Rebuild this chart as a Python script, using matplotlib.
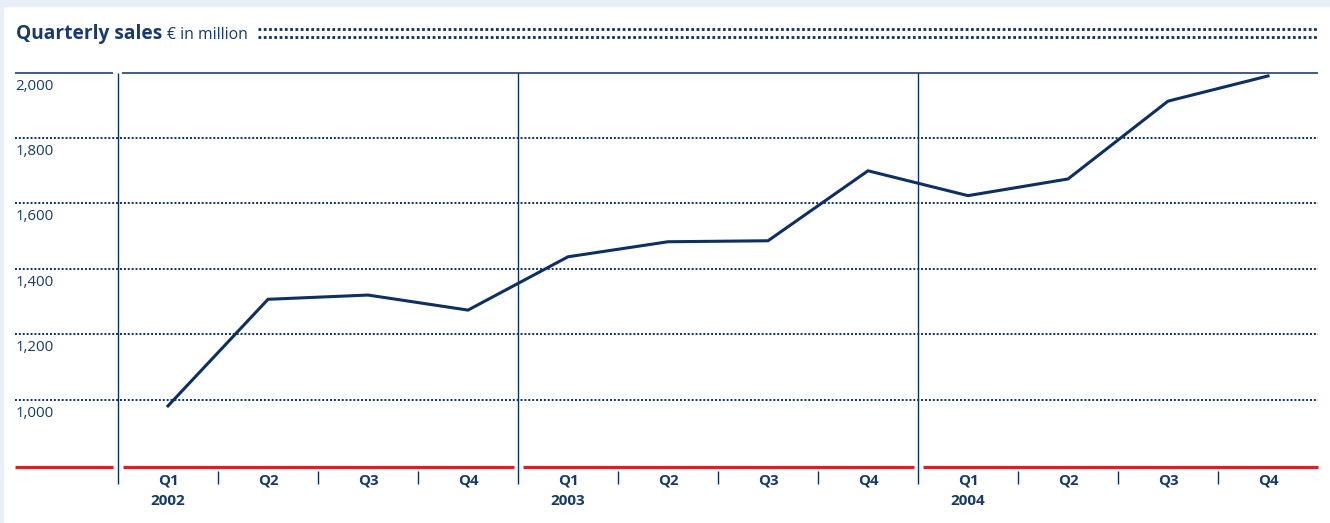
import matplotlib.pyplot as plt
from matplotlib.patches import Rectangle

# Quarterly sales, EUR million
quarters = ["Q1", "Q2", "Q3", "Q4"]
years = ["2002", "2003", "2004"]
sales = [981, 1307, 1320, 1274, 1437, 1483, 1486, 1700, 1624, 1675, 1913, 1990]
y_ticks = [1000, 1200, 1400, 1600, 1800, 2000]

navy = "#0d2f62"
text_navy = "#173a6a"
red = "#e31b23"
frame = "#e8eef7"

plt.rcParams["font.family"] = ["Open Sans", "DejaVu Sans"]

W, H = 1330, 523
fig = plt.figure(figsize=(W / 100, H / 100), dpi=100)
fig.patch.set_facecolor("white")

# light frame along the top and left edge
fig.patches.append(Rectangle((0, 1 - 6 / H), 1, 6 / H, transform=fig.transFigure,
                             color=frame, zorder=0))
fig.patches.append(Rectangle((0, 0), 3 / W, 1, transform=fig.transFigure,
                             color=frame, zorder=0))

ax = fig.add_axes([0, 0, 1, 1])
ax.set_axis_off()
ax.set_xlim(-1.68, 11.62)
ax.set_ylim(622.9, 2222.3)

x_left, x_right = -1.53, 11.5
base = 793
n = len(sales)
x = list(range(n))

# dotted grid, solid line at the top value
for v in y_ticks[:-1]:
    ax.hlines(v, x_left, x_right, colors=navy, lw=1.4, linestyles=(0, (1, 1)))
ax.hlines(y_ticks[-1], x_left, -0.55, colors=navy, lw=1.1)
ax.hlines(y_ticks[-1], -0.46, x_right, colors=navy, lw=1.1)

for v in y_ticks:
    ax.text(x_left + 0.005, v - 18, f"{v:,}", ha="left", va="top",
            fontsize=10.8, color=text_navy)

# year separators and red baseline broken around them
seps = [-0.5 + 4 * k for k in range(len(years))]
for s in seps:
    ax.vlines(s, 742, y_ticks[-1], colors=navy, lw=1.0)
edges = [x_left] + seps + [x_right]
for a, b in zip(edges[:-1], edges[1:]):
    a2 = a if a == x_left else a + 0.045
    b2 = b if b == x_right else b - 0.045
    ax.hlines(base, a2, b2, colors=red, lw=2.3)

# quarter ticks and labels
for i in range(n):
    if i % 4:
        ax.vlines(i - 0.5, 742, 781, colors=navy, lw=1.0)
    ax.text(i, 754, quarters[i % 4], ha="center", va="center",
            fontsize=10.8, fontweight="bold", color=text_navy)
for k, yr in enumerate(years):
    ax.text(4 * k, 690, yr, ha="center", va="center",
            fontsize=11, fontweight="bold", color=text_navy)

ax.plot(x, sales, color=navy, lw=2.2, solid_joinstyle="miter")

# heading
fig.text(16 / W, 1 - 39 / H, "Quarterly sales", ha="left", va="baseline",
         fontsize=13.8, fontweight="bold", color=text_navy)
fig.text(167 / W, 1 - 39 / H, "€ in million", ha="left", va="baseline",
         fontsize=11.3, color=text_navy)
for py in (29.3, 37.3):
    fig.lines.append(plt.Line2D([258 / W, 1318 / W], [1 - py / H, 1 - py / H],
                                transform=fig.transFigure, color=navy, lw=2.0,
                                linestyle=(0, (1, 0.9))))

fig.savefig("out.png", dpi=100)
